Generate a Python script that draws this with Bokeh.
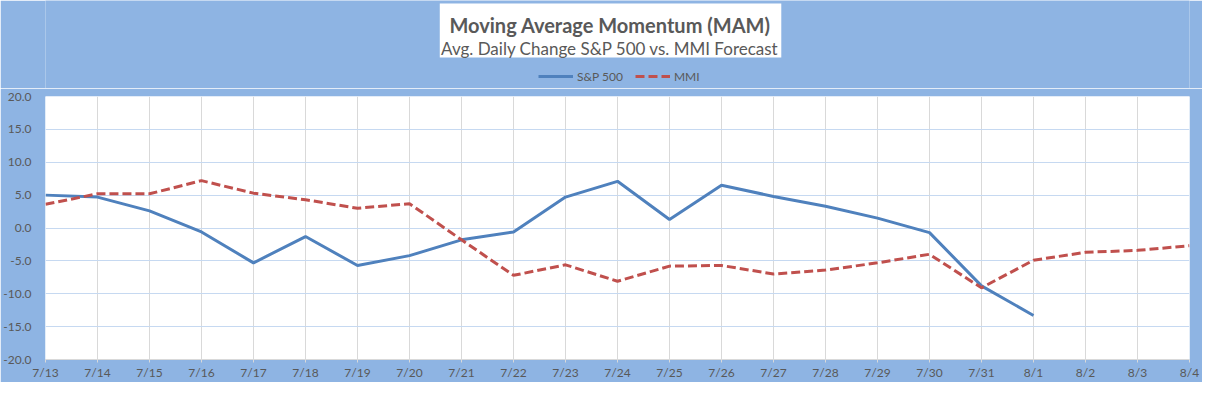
from bokeh.plotting import figure
from bokeh.layouts import column
from bokeh.models import (Range1d, FixedTicker, Legend, LegendItem, PrintfTickFormatter,
                          Label, BoxAnnotation)
from bokeh.embed import file_html
from bokeh.resources import INLINE

dates = ["7/13", "7/14", "7/15", "7/16", "7/17", "7/18", "7/19", "7/20", "7/21", "7/22",
         "7/23", "7/24", "7/25", "7/26", "7/27", "7/28", "7/29", "7/30", "7/31", "8/1",
         "8/2", "8/3", "8/4"]
sp500 = [5.0, 4.7, 2.6, -0.6, -5.3, -1.3, -5.7, -4.2, -1.8, -0.6,
         4.7, 7.1, 1.3, 6.5, 4.8, 3.3, 1.5, -0.7, -8.8, -13.3]
mmi = [3.6, 5.2, 5.2, 7.2, 5.3, 4.3, 3.0, 3.7, -1.8, -7.2,
       -5.6, -8.1, -5.8, -5.7, -7.0, -6.4, -5.3, -4.0, -9.1, -4.9,
       -3.7, -3.4, -2.7]
y_ticks = [-20, -15, -10, -5, 0, 5, 10, 15, 20]

title_text = "Moving Average Momentum (MAM)"
subtitle_text = "Avg. Daily Change S&P 500 vs. MMI Forecast"

FONT = "Lato"
TXT = "#595959"
BG = "#8EB4E3"
C_SP = "#4F81BD"
C_MMI = "#C0504D"
W, H = 1202, 382
HEAD_H = 88
BL, BR = 40, 13

# ---------- header: title box + legend (coordinates in pixels) ----------
head = figure(width=W, height=HEAD_H, output_backend="svg", toolbar_location=None, title=None,
              x_range=Range1d(BL, W - BR), y_range=Range1d(0, HEAD_H),
              x_axis_type=None, y_axis_type=None,
              min_border_left=BL, min_border_right=BR, min_border_top=0, min_border_bottom=0)
head.border_fill_color = BG
head.background_fill_color = BG
head.outline_line_color = None
head.grid.visible = False

head.add_layout(BoxAnnotation(left=436, right=779, top=HEAD_H - 3, bottom=HEAD_H - 57,
                              fill_color="white", fill_alpha=1, line_color=None))
head.add_layout(Label(x=607, y=HEAD_H - 24, text=title_text, text_font=FONT, text_font_size="20px",
                      text_font_style="bold", text_color=TXT, text_align="center",
                      text_baseline="alphabetic"))
head.add_layout(Label(x=607, y=HEAD_H - 48, text=subtitle_text, text_font=FONT, text_font_size="17px",
                      text_color=TXT, text_align="center", text_baseline="alphabetic"))

# legend sample lines (placed outside the visible header range, shown only as legend glyphs)
g1 = head.line([-50, -40], [-50, -50], line_color=C_SP, line_width=3)
g2 = head.line([-50, -40], [-50, -50], line_color=C_MMI, line_width=3, line_dash="9 4")
legend = Legend(items=[LegendItem(label="S&P 500", renderers=[g1]),
                       LegendItem(label="MMI", renderers=[g2])],
                orientation="horizontal", location=(493, 2),
                background_fill_alpha=0, border_line_color=None,
                padding=0, margin=0, spacing=12, label_standoff=4,
                glyph_width=35, glyph_height=20,
                label_text_font=FONT, label_text_font_size="12px", label_text_color=TXT)
head.add_layout(legend, "center")

# ---------- main chart ----------
p = figure(width=W, height=H - HEAD_H, output_backend="svg", toolbar_location=None, title=None,
           x_range=Range1d(0, len(dates) - 1), y_range=Range1d(-20, 20),
           min_border_left=BL, min_border_right=BR, min_border_top=8, min_border_bottom=19)
p.border_fill_color = BG
p.background_fill_color = "white"
p.outline_line_color = None

xi = list(range(len(dates)))
p.xaxis.ticker = FixedTicker(ticks=xi)
p.xaxis.major_label_overrides = {i: d for i, d in enumerate(dates)}
p.xaxis.axis_line_color = "#D9D9D9"
p.xaxis.major_tick_line_color = "#D9D9D9"
p.xaxis.major_tick_out = 3
p.xaxis.major_tick_in = 0
p.xaxis.minor_tick_line_color = None
p.xaxis.major_label_text_font = FONT
p.xaxis.major_label_text_font_size = "12px"
p.xaxis.major_label_text_color = TXT
p.xaxis.major_label_standoff = 2

p.yaxis.ticker = FixedTicker(ticks=y_ticks)
p.yaxis.formatter = PrintfTickFormatter(format="%.1f")
p.yaxis.axis_line_color = None
p.yaxis.major_tick_line_color = None
p.yaxis.minor_tick_line_color = None
p.yaxis.major_label_text_font = FONT
p.yaxis.major_label_text_font_size = "12px"
p.yaxis.major_label_text_color = TXT
p.yaxis.major_label_standoff = 8

p.xgrid.ticker = FixedTicker(ticks=xi)
p.xgrid.grid_line_color = "#D9D9D9"
p.ygrid.ticker = FixedTicker(ticks=y_ticks)
p.ygrid.grid_line_color = "#C6D9F1"

p.line(xi[:len(sp500)], sp500, line_color=C_SP, line_width=3)
p.line(xi[:len(mmi)], mmi, line_color=C_MMI, line_width=3, line_dash="9 4")

layout = column(head, p, spacing=0)
open("out.html", "w").write(file_html(layout, INLINE))
